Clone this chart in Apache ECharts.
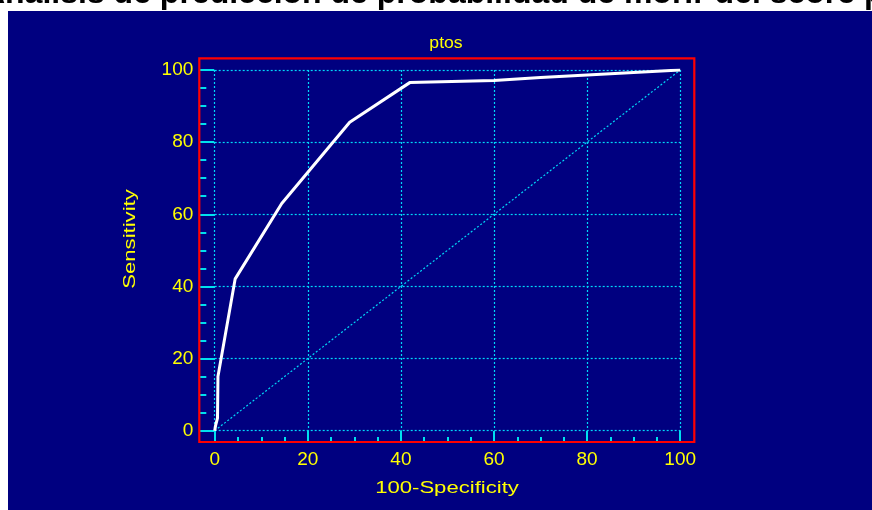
<!DOCTYPE html>
<html><head><meta charset="utf-8">
<script src="https://cdn.jsdelivr.net/npm/echarts@6/dist/echarts.min.js"></script>
<style>html,body{margin:0;padding:0;background:#fff}#c{width:872px;height:510px}</style>
</head><body><div id="c"></div>
<script>
const chartTitle = 'Análisis de predicción de probabilidad de morir del score ptos';
const panelTitle = 'ptos';
const xAxisName = '100-Specificity';
const yAxisName = 'Sensitivity';
// ROC curve points (100-Specificity, Sensitivity)
const rocFpr = [0, 0.2, 0.6, 0.7, 4.4, 14.4, 29.0, 41.9, 60.0, 70.0, 100];
const rocTpr = [0, 1.5, 3.5, 15.0, 42.1, 63.0, 85.5, 96.5, 97.1, 97.9, 100];
// reference diagonal
const refFpr = [0, 100];
const refTpr = [0, 100];
const axisMin = 0, axisMax = 100, axisStep = 20;

const chart = echarts.init(document.getElementById('c'), null, {renderer: 'canvas'});
const cyan = '#00e0ee';
const gridCyan = '#00d8f8';
const yellow = '#ffff00';
const font = 'Liberation Sans';

const option = {
  backgroundColor: '#ffffff',
  animation: false,
  grid: {left: 214.7, top: 70, width: 465.5, height: 360.7, show: false},
  xAxis: {
    type: 'value', min: axisMin, max: axisMax, interval: axisStep, offset: 11.3, z: 10,
    axisLine: {show: false, onZero: false},
    axisTick: {inside: true, length: 11, lineStyle: {color: cyan, width: 2}},
    minorTick: {show: true, splitNumber: 4, length: 5, lineStyle: {color: cyan, width: 2}},
    splitLine: {show: true, lineStyle: {color: gridCyan, width: 1.2, type: [2, 2]}},
    axisLabel: {color: yellow, fontSize: 19, fontFamily: font, margin: 8}
  },
  yAxis: {
    type: 'value', min: axisMin, max: axisMax, interval: axisStep, offset: 15.4, z: 10,
    axisLine: {show: false, onZero: false},
    axisTick: {inside: true, length: 15, lineStyle: {color: cyan, width: 2}},
    minorTick: {show: true, splitNumber: 4, length: 7, lineStyle: {color: cyan, width: 2}},
    splitLine: {show: true, lineStyle: {color: gridCyan, width: 1.2, type: [2, 2]}},
    axisLabel: {color: yellow, fontSize: 19, fontFamily: font, margin: 6}
  },
  series: [
    {type: 'line', data: refFpr.map((x, i) => [x, refTpr[i]]), symbol: 'none', silent: true, z: 15,
     lineStyle: {color: gridCyan, width: 1.2, type: [2, 2]}},
    {type: 'line', data: rocFpr.map((x, i) => [x, rocTpr[i]]), symbol: 'none', silent: true, z: 20,
     lineStyle: {color: '#ffffff', width: 3}}
  ],
  graphic: [
    {type: 'text', x: -18, y: -6, z: 1, silent: true,
     style: {text: chartTitle, font: 'bold 32px "Liberation Sans"', fill: '#000000', verticalAlign: 'middle', align: 'left'}},
    {type: 'rect', z: 2, silent: true, shape: {x: 8, y: 11, width: 864, height: 499}, style: {fill: '#000080'}},
    {type: 'rect', z: 30, silent: true, shape: {x: 199.3, y: 58.3, width: 495, height: 383.7},
     style: {fill: 'transparent', stroke: '#ff0000', lineWidth: 2.2}},
    {type: 'text', x: 446, y: 44, z: 31, silent: true, scaleX: 1.1,
     style: {text: panelTitle, font: '16px "Liberation Sans"', fill: yellow, align: 'center', verticalAlign: 'middle'}},
    {type: 'text', x: 447, y: 488, z: 31, silent: true, scaleX: 1.3,
     style: {text: xAxisName, font: '17px "Liberation Sans"', fill: yellow, align: 'center', verticalAlign: 'middle'}},
    {type: 'text', x: 130, y: 239, z: 31, silent: true, rotation: Math.PI / 2, scaleX: 1.3,
     style: {text: yAxisName, font: '17px "Liberation Sans"', fill: yellow, align: 'center', verticalAlign: 'middle'}}
  ]
};
chart.setOption(option);
</script></body></html>
